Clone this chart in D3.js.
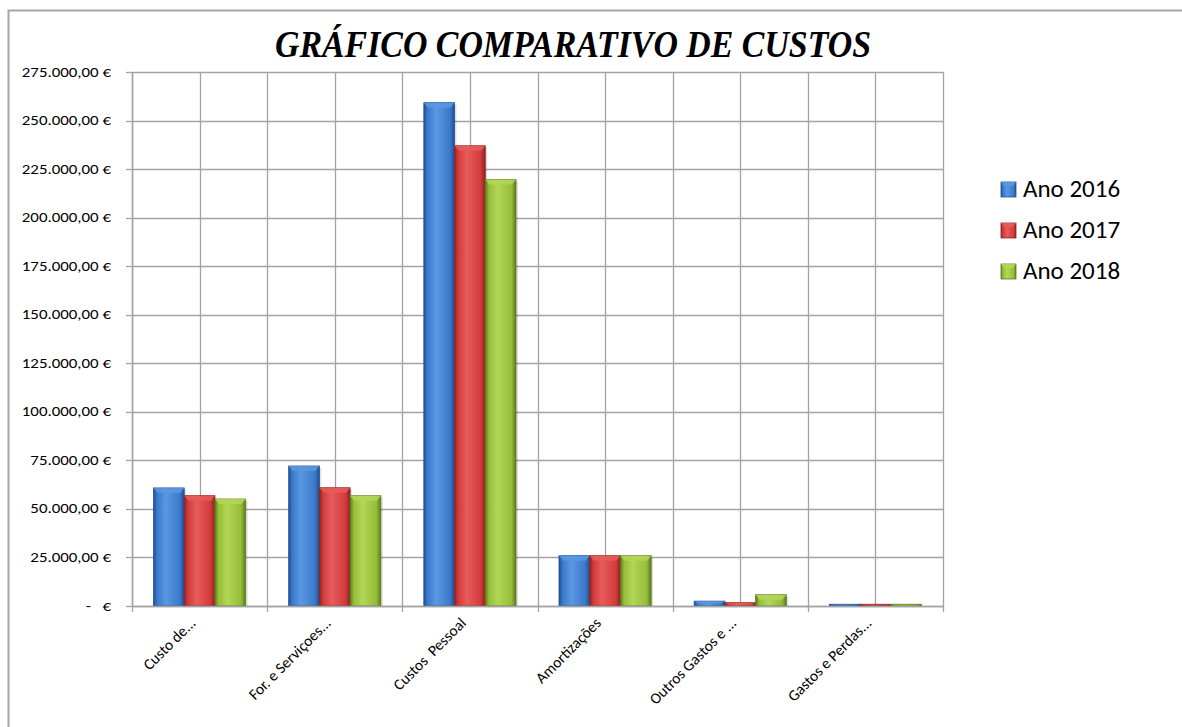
<!DOCTYPE html>
<html><head><meta charset="utf-8">
<script src="https://cdn.jsdelivr.net/npm/d3@7"></script>
<style>body{margin:0;background:#fff;} svg{display:block;}</style>
</head><body>
<script>
const categories = ["Custo de...", "For. e Serviçoes...", "Custos  Pessoal", "Amortizações", "Outros Gastos e ...", "Gastos e Perdas..."];
const seriesNames = ["Ano 2016", "Ano 2017", "Ano 2018"];
const ano2016 = [60800, 72100, 259200, 25900, 2500, 900];
const ano2017 = [56800, 60900, 237000, 25900, 1800, 900];
const ano2018 = [55100, 56800, 219700, 25900, 5800, 900];
const yTicks = [0, 25000, 50000, 75000, 100000, 125000, 150000, 175000, 200000, 225000, 250000, 275000];
const title = "GRÁFICO COMPARATIVO DE CUSTOS";

const W = 1182, H = 727;
const svg = d3.select("body").append("svg").attr("width", W).attr("height", H);
const defs = svg.append("defs");
const FONT = "Carlito, Calibri, 'Liberation Sans', sans-serif";

const colors = [
  {base:"#3a79cc", light:"#5b98e2", dark:"#22508f"},
  {base:"#d33a3a", light:"#e65c5c", dark:"#8e2222"},
  {base:"#95be38", light:"#b3d658", dark:"#5c7b1d"}
];
colors.forEach((c,i)=>{
  const g = defs.append("linearGradient").attr("id","g"+i).attr("x1","0").attr("x2","1").attr("y1","0").attr("y2","0");
  g.append("stop").attr("offset","0").attr("stop-color",c.dark);
  g.append("stop").attr("offset","0.12").attr("stop-color",c.base);
  g.append("stop").attr("offset","0.4").attr("stop-color",c.light);
  g.append("stop").attr("offset","0.85").attr("stop-color",c.base);
  g.append("stop").attr("offset","1").attr("stop-color",c.dark);
});

// outer border
svg.append("path").attr("d","M8.5,727 L8.5,10.5 L1182,10.5").attr("fill","none").attr("stroke","#a6a6a6").attr("stroke-width",2);

const L = 132, R = 943, T = 72, B = 606;
const x0 = d3.scaleBand().domain(categories).range([L, R]).paddingInner(0).paddingOuter(0);
const x1 = d3.scaleBand().domain(seriesNames).range([0, x0.bandwidth()]).paddingInner(0).paddingOuter(0.7);
const y = d3.scaleLinear().domain([0, 275000]).range([B, T]);

const grid = svg.append("g");
grid.selectAll("line.h").data(yTicks).join("line")
  .attr("x1", L).attr("x2", R).attr("y1", d=>Math.round(y(d))+0.5).attr("y2", d=>Math.round(y(d))+0.5)
  .attr("stroke","#a3a3a3").attr("stroke-width",1.3);
const vlines = [];
categories.forEach((c,i)=>{ vlines.push(x0(c)); vlines.push(x0(c)+x0.bandwidth()/2); });
vlines.push(R);
grid.selectAll("line.v").data(vlines).join("line")
  .attr("x1", d=>Math.round(d)+0.5).attr("x2", d=>Math.round(d)+0.5).attr("y1", T).attr("y2", B)
  .attr("stroke","#a3a3a3").attr("stroke-width",1.3);

// bars
const series = [ano2016, ano2017, ano2018];
const data = [];
categories.forEach((c,ci)=>{
  seriesNames.forEach((s,si)=>{ data.push({c, s, si, v: series[si][ci]}); });
});
const bars = svg.append("g");
const bw = x1.bandwidth();
data.forEach(d=>{
  const bx = x0(d.c) + x1(d.s);
  const by = y(d.v);
  const bh = B - by;
  const g = bars.append("g");
  g.append("rect").attr("x", bx+2).attr("y", by+2).attr("width", bw).attr("height", Math.max(0,bh-2))
    .attr("fill","#000").attr("opacity",0.12);
  g.append("rect").attr("x", bx).attr("y", by).attr("width", bw).attr("height", bh)
    .attr("fill","url(#g"+d.si+")").attr("stroke", colors[d.si].dark).attr("stroke-width",0.8);
  const bev = Math.min(5, bh/2);
  if (bh > 3) {
    g.append("path").attr("d",`M${bx},${by} L${bx+bw},${by} L${bx+bw-4},${by+bev} L${bx+4},${by+bev} Z`)
      .attr("fill", colors[d.si].light).attr("opacity",0.85);
  }
});

// y axis
const yAxis = svg.append("g");
yAxis.append("line").attr("x1",L+0.5).attr("x2",L+0.5).attr("y1",T).attr("y2",B).attr("stroke","#a3a3a3").attr("stroke-width",1.5);
yAxis.selectAll("line.t").data(yTicks).join("line")
  .attr("x1",L-6).attr("x2",L).attr("y1",d=>Math.round(y(d))+0.5).attr("y2",d=>Math.round(y(d))+0.5)
  .attr("stroke","#a3a3a3").attr("stroke-width",1.3);
const fmt = d3.formatLocale({decimal:",", thousands:".", grouping:[3], currency:["","€"]}).format(",.2f");
yAxis.selectAll("g.lab").data(yTicks).join("g")
  .attr("transform", d=>`translate(111,${y(d)+4.5}) scale(1.25,1)`)
  .append("text")
  .attr("text-anchor","end")
  .attr("font-family",FONT).attr("font-size",13.5).attr("fill","#000")
  .attr("xml:space","preserve")
  .text(d=> d===0 ? "-   €" : fmt(d)+" €");

// x axis
const xAxis = svg.append("g");
xAxis.append("line").attr("x1",L).attr("x2",R).attr("y1",B+0.5).attr("y2",B+0.5).attr("stroke","#a3a3a3").attr("stroke-width",1.5);
const bounds = categories.map(c=>x0(c)).concat([R]);
xAxis.selectAll("line.t").data(bounds).join("line")
  .attr("x1",d=>Math.round(d)+0.5).attr("x2",d=>Math.round(d)+0.5).attr("y1",B).attr("y2",B+6)
  .attr("stroke","#a3a3a3").attr("stroke-width",1.3);
xAxis.selectAll("text").data(categories).join("text")
  .attr("transform", d=>`translate(${x0(d)+x0.bandwidth()/2-3},${B+18}) rotate(-45)`)
  .attr("text-anchor","end")
  .attr("font-family",FONT).attr("font-size",15.5).attr("fill","#000")
  .attr("xml:space","preserve")
  .text(d=>d);

// title
svg.append("text").attr("x", 573).attr("y", 57).attr("text-anchor","middle")
  .attr("font-family","'Liberation Serif', 'DejaVu Serif', serif").attr("font-style","italic").attr("font-weight","bold").attr("font-size",37)
  .attr("textLength", 596).attr("lengthAdjust","spacingAndGlyphs")
  .attr("fill","#000").text(title);

// legend
const lg = svg.append("g");
seriesNames.forEach((s,i)=>{
  const ly = 189 + i*41;
  lg.append("rect").attr("x",1001).attr("y",ly-7).attr("width",15).attr("height",15)
    .attr("fill","url(#g"+i+")").attr("stroke",colors[i].dark).attr("stroke-width",0.8);
  lg.append("path").attr("d",`M1001,${ly-7} L1016,${ly-7} L1013,${ly-3} L1004,${ly-3} Z`).attr("fill",colors[i].light).attr("opacity",0.85);
  lg.append("text").attr("x",1023).attr("y",ly+8)
    .attr("font-family",FONT).attr("font-size",25).attr("fill","#000")
    .text(s);
});
</script>
</body></html>
